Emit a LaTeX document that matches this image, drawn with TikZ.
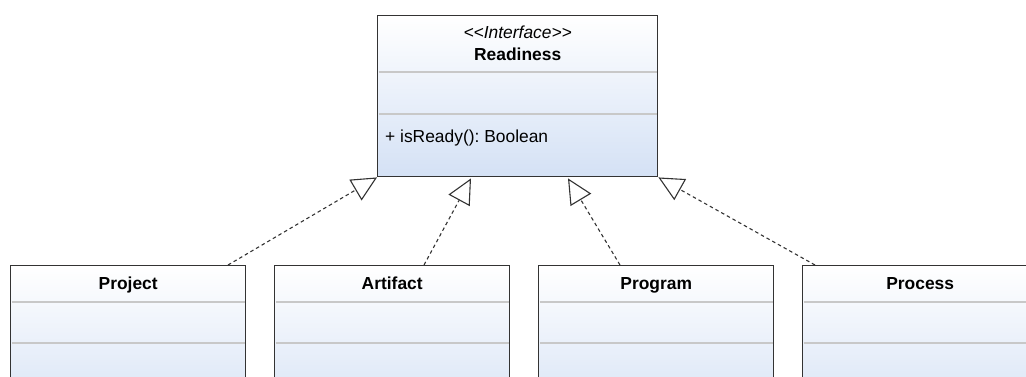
\documentclass[tikz,border=0pt]{standalone}
\usepackage{fontspec}
\setmainfont{Liberation Sans}
\usetikzlibrary{arrows.meta,calc}
\definecolor{boxline}{HTML}{333333}
\definecolor{boxfill}{HTML}{D4E1F5}
\definecolor{sepline}{HTML}{C8C8C8}
\frenchspacing
\tikzset{
  classbox/.style={draw=boxline, line width=1.4pt, top color=white, bottom color=boxfill,
    rectangle, anchor=north west, inner sep=0pt},
  sep/.style={draw=sepline, line width=2pt},
  lbl/.style={inner sep=0pt, font=\fontsize{17.4pt}{20pt}\selectfont, text=black},
  realizes/.style={draw=boxline, line width=1.1pt, dash pattern=on 3.5pt off 3pt,
    -{Triangle[open, length=25pt, width=24pt, fill=white, line width=1.1pt]}},
}
\begin{document}
\begin{tikzpicture}[x=1pt, y=-1pt]
\useasboundingbox (0,0) rectangle (1026,376);
\clip (0,0) rectangle (1026,376);

% interface
\node[classbox, minimum width=280pt, minimum height=161pt] (r) at (377,15) {};
\draw[sep] ($(r.north west)+(1.5,57)$) -- ($(r.north east)+(-1.5,57)$);
\draw[sep] ($(r.north west)+(1.5,99)$) -- ($(r.north east)+(-1.5,99)$);
\node[lbl, anchor=base] (rst) at ($(r.north)+(0,23)$) {\itshape <\kern0pt<Interface>\kern0pt>};
\node[lbl, anchor=base] (rname) at ($(r.north)+(0,45)$) {\bfseries Readiness};
\node[lbl, anchor=base west] (rop) at ($(r.north west)+(8,127)$) {+ isReady(): Boolean};

% implementing classes
\foreach \n/\x/\t in {pj/10/Project, ar/274/Artifact, pg/538/Program, ps/802/Process}{
  \node[classbox, minimum width=235pt, minimum height=161pt] (\n) at (\x,265) {};
  \draw[sep] ($(\n.north west)+(1.5,37)$) -- ($(\n.north east)+(-1.5,37)$);
  \draw[sep] ($(\n.north west)+(1.5,78)$) -- ($(\n.north east)+(-1.5,78)$);
  \node[lbl, anchor=base] (\n-name) at ($(\n.north)+(0,24)$) {\bfseries \t};
}

% connector ends
\coordinate (t1) at (r.south west);
\coordinate (t2) at ($(r.south west)+(94,1)$);
\coordinate (t3) at ($(r.south west)+(191,1)$);
\coordinate (t4) at (r.south east);
\coordinate (s1) at ($(pj.north west)+(218,0)$);
\coordinate (s2) at ($(ar.north west)+(150,0)$);
\coordinate (s3) at ($(pg.north west)+(82,0)$);
\coordinate (s4) at ($(ps.north west)+(13,0)$);

\draw[realizes] (s1) -- (t1);
\draw[realizes] (s2) -- (t2);
\draw[realizes] (s3) -- (t3);
\draw[realizes] (s4) -- (t4);
\end{tikzpicture}
\end{document}
